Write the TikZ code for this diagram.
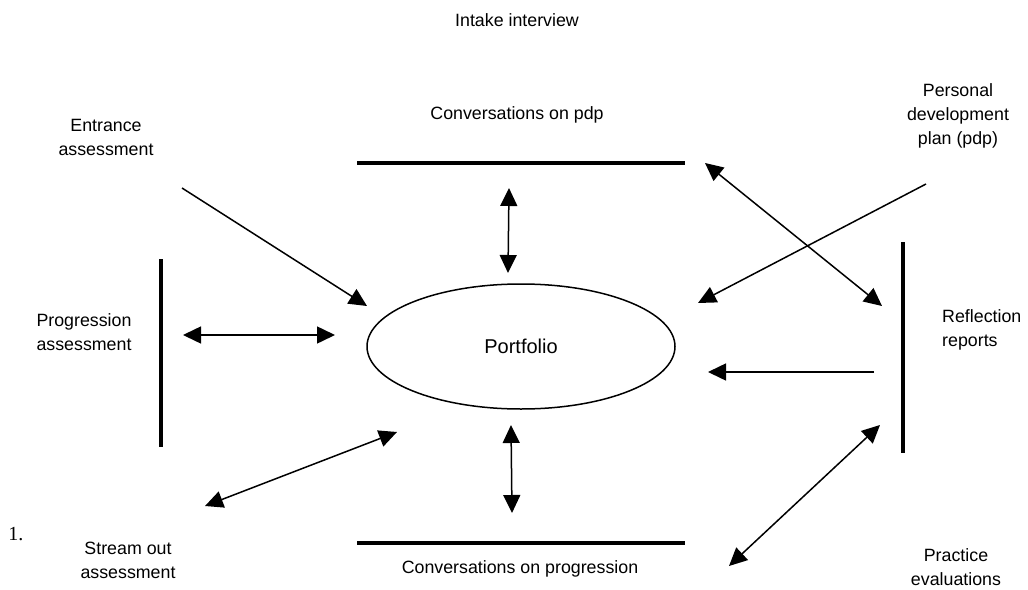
\documentclass[tikz,border=0pt]{standalone}
\usepackage{fontspec}
\setmainfont{Liberation Sans}
\newfontfamily\serifone{Liberation Serif}
\usetikzlibrary{arrows.meta,shapes.geometric}
\tikzset{
  lbl/.style={font=\fontsize{17.8}{24}\selectfont, align=center, inner sep=0pt},
  bar/.style={line width=4pt},
  tip/.style={},
  conn/.style={line width=1.5pt, -{Triangle[length=18pt,width=17pt]}},
  dconn/.style={line width=1.5pt, {Triangle[length=18pt,width=17pt]}-{Triangle[length=18pt,width=17pt]}},
}
\begin{document}
\begin{tikzpicture}[x=1pt,y=-1pt]
\useasboundingbox (0,0) rectangle (1028,589);
% text labels
\node[lbl] (intake) at (517,20) {Intake interview};
\node[lbl] (convpdp) at (517,115) {Conversations on pdp};
\node[lbl] (entr) at (106,137) {Entrance\\assessment};
\node[lbl] (pdp) at (958,116) {Personal\\development\\plan (pdp)};
\node[lbl] (progr) at (84,332) {Progression\\assessment};
\node[lbl, align=left, anchor=west] (refl) at (942,330) {Reflection\\reports};
\node[lbl] (stream) at (128,560) {Stream out\\assessment};
\node[lbl] (pract) at (956,567) {Practice\\evaluations};
\node[lbl] (convprog) at (520,569) {Conversations on progression};
\node[font=\serifone\fontsize{20}{24}\selectfont, inner sep=0pt] (one) at (16,534) {1.};
% ellipse
\node[draw, line width=1.5pt, ellipse, minimum width=308pt, minimum height=125pt, inner sep=0pt, lbl, font=\fontsize{20}{24}\selectfont] (port) at (521,346.5) {Portfolio};
% bars
\coordinate (tl1) at (357,163); \coordinate (tl2) at (685,163);
\coordinate (bl1) at (357,543); \coordinate (bl2) at (685,543);
\coordinate (ll1) at (161,259); \coordinate (ll2) at (161,447);
\coordinate (rl1) at (903,242); \coordinate (rl2) at (903,453);
\draw[bar] (tl1) -- (tl2);
\draw[bar] (bl1) -- (bl2);
\draw[bar] (ll1) -- (ll2);
\draw[bar] (rl1) -- (rl2);
% arrow endpoints
\coordinate (ea) at (182,188); \coordinate (eb) at (367,306);
\coordinate (pa) at (183,335); \coordinate (pb) at (335,335);
\coordinate (sa) at (205,506); \coordinate (sb) at (397,432);
\coordinate (ta) at (509,188); \coordinate (tb) at (508,273);
\coordinate (ba) at (511,425); \coordinate (bb) at (512,513);
\coordinate (xa) at (705,163); \coordinate (xb) at (882,306);
\coordinate (da) at (926,184); \coordinate (db) at (698,303);
\coordinate (ra) at (874,372); \coordinate (rb) at (708,372);
\coordinate (qa) at (880,425); \coordinate (qb) at (729,566);
\draw[conn] (ea) -- (eb);
\draw[dconn] (pa) -- (pb);
\draw[dconn] (sa) -- (sb);
\draw[dconn] (ta) -- (tb);
\draw[dconn] (ba) -- (bb);
\draw[dconn] (xa) -- (xb);
\draw[conn] (da) -- (db);
\draw[conn] (ra) -- (rb);
\draw[dconn] (qa) -- (qb);
\end{tikzpicture}
\end{document}
